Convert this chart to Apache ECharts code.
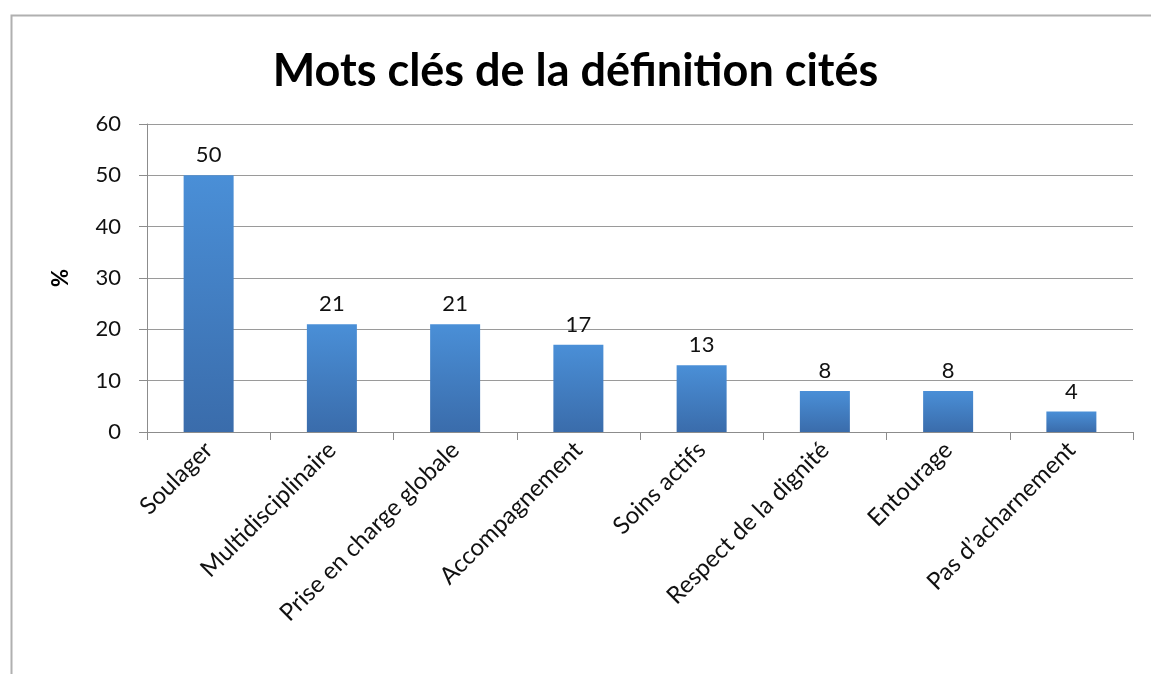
<!DOCTYPE html>
<html>
<head>
<meta charset="utf-8">
<script src="https://cdn.jsdelivr.net/npm/echarts@6/dist/echarts.min.js"></script>
<style>
  html, body { margin: 0; padding: 0; background: #fff; overflow: hidden; }
  #chart { position: absolute; left: 0; top: 0; width: 1151px; height: 674px; }
</style>
</head>
<body>
<div id="chart"></div>
<script>
const categories = ['Soulager', 'Multidisciplinaire', 'Prise en charge globale', 'Accompagnement',
  'Soins actifs', 'Respect de la dignité', 'Entourage', 'Pas d\u2019acharnement']
const values = [50, 21, 21, 17, 13, 8, 8, 4]
const yTicks = { min: 0, max: 60, interval: 10 }

const font = 'Lato, "Open Sans", sans-serif'
const chart = echarts.init(document.getElementById('chart'), null, { renderer: 'canvas' })

chart.setOption({
  backgroundColor: '#fff',
  // outer frame, only its left and top edges are in view
  graphic: [{
    type: 'rect',
    left: 9, top: 13,
    shape: { width: 1300, height: 800 },
    style: { fill: 'none', stroke: '#b0b0b0', lineWidth: 2 },
    silent: true
  }],
  title: {
    text: 'Mots clés de la définition cités',
    left: 'center',
    top: 44,
    textStyle: { color: '#000', fontSize: 45, fontWeight: 'bold', fontFamily: font }
  },
  grid: { left: 147, right: 18, top: 124, bottom: 242 },
  xAxis: {
    type: 'category',
    data: categories,
    axisLine: { lineStyle: { color: '#8c8c8c', width: 1 } },
    axisTick: { show: true, length: 8, lineStyle: { color: '#8c8c8c' } },
    axisLabel: {
      rotate: 45, margin: 14, interval: 0,
      color: '#111', fontSize: 24, fontFamily: font
    }
  },
  yAxis: {
    type: 'value',
    min: yTicks.min, max: yTicks.max, interval: yTicks.interval,
    name: '%',
    nameLocation: 'middle',
    nameGap: 75,
    nameRotate: 90,
    nameTextStyle: { color: '#000', fontSize: 22, fontWeight: 'bold', fontFamily: font },
    axisLine: { show: true, lineStyle: { color: '#8c8c8c', width: 1 } },
    axisTick: { show: true, length: 8, lineStyle: { color: '#8c8c8c' } },
    axisLabel: { color: '#111', fontSize: 22, margin: 26, fontFamily: font },
    splitLine: { lineStyle: { color: '#9a9a9a', width: 1 } }
  },
  series: [{
    type: 'bar',
    data: values,
    barWidth: 50,
    itemStyle: {
      color: new echarts.graphic.LinearGradient(0, 0, 0, 1, [
        { offset: 0, color: '#4a8fd7' },
        { offset: 1, color: '#3a6cab' }
      ])
    },
    label: {
      show: true, position: 'top', distance: 9,
      color: '#111', fontSize: 22, fontFamily: font
    }
  }]
})
</script>
</body>
</html>
